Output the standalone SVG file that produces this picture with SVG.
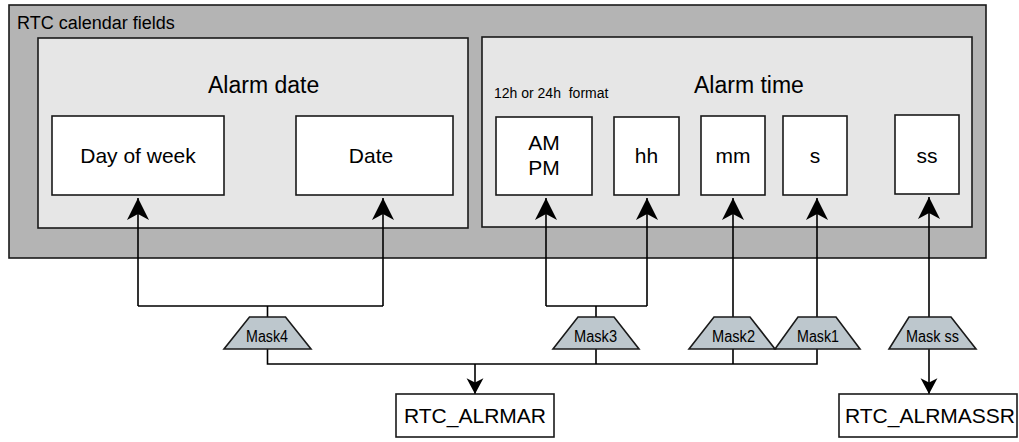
<svg xmlns="http://www.w3.org/2000/svg" width="1019" height="442" viewBox="0 0 1019 442">
<style>
text{font-family:"Liberation Sans",Arial,sans-serif;fill:#000}
.box{fill:#fff;stroke:#1a1a1a;stroke-width:1.6}
.outer{fill:#b4b4b4;stroke:#1a1a1a;stroke-width:1.6}
.inner{fill:#e6e6e6;stroke:#1a1a1a;stroke-width:1.6}
.mask{fill:#bdc7cd;stroke:#1a1a1a;stroke-width:1.6;stroke-linejoin:miter}
.line{fill:none;stroke:#000;stroke-width:1.6}
.lbl{font-size:21px;text-anchor:middle}
.title{font-size:23px}
.mlbl{font-size:16px;text-anchor:middle}
</style>
<defs>
<marker id="up" markerUnits="userSpaceOnUse" markerWidth="24" markerHeight="24" viewBox="-12 -1 24 24" refX="0" refY="0" orient="auto-start-reverse">
<path d="M0,0 L-11,22 L0,16 L11,22 Z" fill="#000" transform="rotate(-90)"/>
</marker>
<marker id="head" markerUnits="userSpaceOnUse" markerWidth="26" markerHeight="26" viewBox="-24 -12 26 24" refX="0" refY="0" orient="auto">
<path d="M0,0 L-22,-11 L-16,0 L-22,11 Z" fill="#000"/>
</marker>
<marker id="headS" markerUnits="userSpaceOnUse" markerWidth="20" markerHeight="20" viewBox="-17 -9 19 18" refX="0" refY="0" orient="auto">
<path d="M0,0 L-15,-8 L-11,0 L-15,8 Z" fill="#000"/>
</marker>
</defs>

<g id="calendar-fields">
<rect class="outer" x="9" y="5" width="977" height="253"/>
<text x="17" y="29" font-size="18">RTC calendar fields</text>
</g>

<g id="alarm-date">
<rect class="inner" x="38" y="38" width="430" height="190"/>
<text class="title" x="208" y="93">Alarm date</text>
</g>

<g id="alarm-time">
<rect class="inner" x="482" y="37" width="490" height="190"/>
<text class="title" x="694" y="93">Alarm time</text>
<text x="494" y="98" font-size="14" style="white-space:pre">12h or 24h  format</text>
</g>

<g id="day-of-week">
<rect class="box" x="52" y="116" width="172" height="79"/>
<text class="lbl" x="138" y="163">Day of week</text>
</g>
<g id="date">
<rect class="box" x="296" y="116" width="157" height="79"/>
<text class="lbl" x="371" y="163">Date</text>
</g>
<g id="ampm">
<rect class="box" x="496" y="117" width="96" height="78"/>
<text class="lbl" x="544" y="150">AM</text>
<text class="lbl" x="544" y="175">PM</text>
</g>
<g id="hh">
<rect class="box" x="614" y="117" width="65" height="78"/>
<text class="lbl" x="646.5" y="163">hh</text>
</g>
<g id="mm">
<rect class="box" x="701" y="116" width="64" height="79"/>
<text class="lbl" x="733" y="163">mm</text>
</g>
<g id="s">
<rect class="box" x="783" y="116" width="64" height="79"/>
<text class="lbl" x="815" y="163">s</text>
</g>
<g id="ss">
<rect class="box" x="895" y="115" width="64" height="79"/>
<text class="lbl" x="927" y="163">ss</text>
</g>

<g id="connectors">
<path class="line" d="M138,306 V198" marker-end="url(#head)"/>
<path class="line" d="M383,306 V198" marker-end="url(#head)"/>
<path class="line" d="M138,306 H383 M267.5,306 V317"/>
<path class="line" d="M546,306 V198" marker-end="url(#head)"/>
<path class="line" d="M647,306 V198" marker-end="url(#head)"/>
<path class="line" d="M546,306 H647 M596,306 V317"/>
<path class="line" d="M733,317 V198" marker-end="url(#head)"/>
<path class="line" d="M817,317 V198" marker-end="url(#head)"/>
<path class="line" d="M929,317 V197" marker-end="url(#head)"/>
<path class="line" d="M267.5,349 V364 H817 V349 M596,349 V364 M733,349 V364"/>
<path class="line" d="M475,364 V394" marker-end="url(#headS)"/>
<path class="line" d="M929,349 V394" marker-end="url(#headS)"/>
</g>

<g id="mask4">
<polygon class="mask" points="249.5,317 285.5,317 311,349 224,349"/>
<text class="mlbl" x="267" y="342" textLength="42" lengthAdjust="spacingAndGlyphs">Mask4</text>
</g>
<g id="mask3">
<polygon class="mask" points="578,317 614,317 639,349 553,349"/>
<text class="mlbl" x="595.5" y="342" textLength="43" lengthAdjust="spacingAndGlyphs">Mask3</text>
</g>
<g id="mask2">
<polygon class="mask" points="714,317 750,317 775,349 689,349"/>
<text class="mlbl" x="733.5" y="342" textLength="43" lengthAdjust="spacingAndGlyphs">Mask2</text>
</g>
<g id="mask1">
<polygon class="mask" points="798,317 836,317 860,349 775,349"/>
<text class="mlbl" x="818" y="342" textLength="42" lengthAdjust="spacingAndGlyphs">Mask1</text>
</g>
<g id="mask-ss">
<polygon class="mask" points="909,317 951,317 976,349 889,349"/>
<text class="mlbl" x="932.5" y="342" textLength="53" lengthAdjust="spacingAndGlyphs">Mask ss</text>
</g>

<g id="rtc-alrmar">
<rect class="box" x="396" y="394" width="158" height="43"/>
<text class="lbl" x="475" y="423">RTC_ALRMAR</text>
</g>
<g id="rtc-alrmassr">
<rect class="box" x="839" y="394" width="178" height="43"/>
<text x="845" y="423" font-size="21">RTC_ALRMASSR</text>
</g>
</svg>
